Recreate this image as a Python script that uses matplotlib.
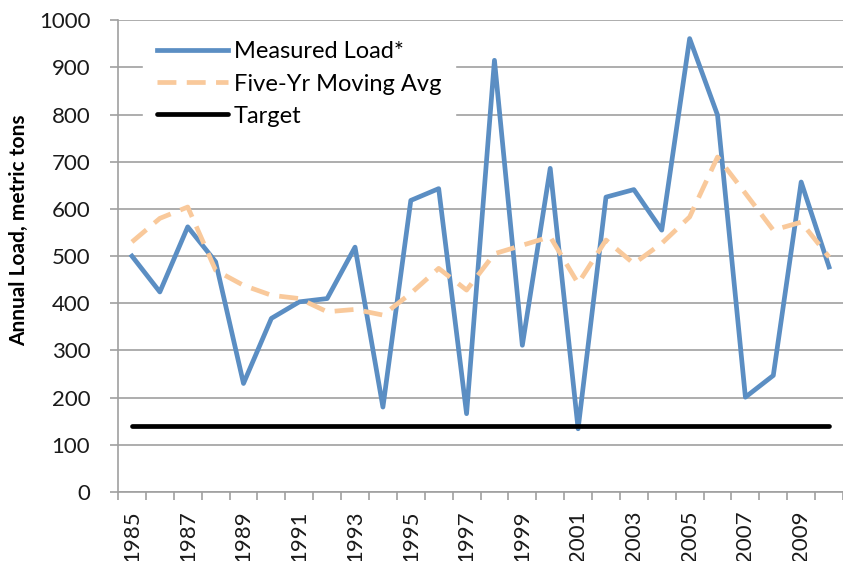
import matplotlib
matplotlib.use('Agg')
import matplotlib.pyplot as plt
import numpy as np

years = list(range(1985, 2011))
measured = [500, 424, 562, 488, 230, 368, 403, 410, 519, 180, 618, 643, 166,
            915, 311, 686, 134, 625, 641, 555, 961, 799, 201, 247, 657, 477]
moving_avg = [530, 580, 604, 470, 438, 417, 410, 382, 387, 375, 421, 474, 428,
              505, 523, 541, 442, 534, 484, 527, 583, 710, 633, 555, 572, 498]
target = [140] * len(years)

plt.rcParams['font.family'] = ['Lato', 'DejaVu Sans']

fig = plt.figure(figsize=(8.43, 5.61), dpi=100)
ax = fig.add_axes([0.14, 0.123, 0.86, 0.841])

x = np.arange(len(years))
ax.plot(x, measured, color='#5b8ec3', lw=3.4, label='Measured Load*', zorder=3)
ax.plot(x, moving_avg, color='#f9c99b', lw=3.4, ls=(0, (4, 2.2)), label='Five-Yr Moving Avg', zorder=3)
ax.plot(x, target, color='black', lw=3.4, label='Target', zorder=3, solid_capstyle='round')

ax.set_xlim(-0.5, len(years) - 0.5)
ax.set_ylim(0, 1000)
ax.set_yticks(range(0, 1001, 100))
ax.yaxis.grid(True, color='#a0a0a0', lw=1.2)
ax.set_axisbelow(True)

ax.set_xticks(x[::2])
ax.set_xticklabels([str(y) for y in years[::2]], rotation=90)
ax.set_xticks(np.arange(len(years) + 1) - 0.5, minor=True)
ax.tick_params(axis='x', which='major', length=0, pad=13, labelsize=16, labelcolor='#1a1a1a')
ax.tick_params(axis='x', which='minor', length=6, color='#a0a0a0', width=1.2)
ax.tick_params(axis='y', length=6, color='#a0a0a0', width=1.2, labelsize=16, pad=14,
               labelcolor='#1a1a1a')

for s in ['top', 'right']:
    ax.spines[s].set_visible(False)
for s in ['left', 'bottom']:
    ax.spines[s].set_color('#a0a0a0')
    ax.spines[s].set_linewidth(1.2)

ax.set_ylabel('Annual Load, metric tons', fontsize=15, fontweight='bold')
ax.yaxis.set_label_coords(-0.122, 0.555)

leg = ax.legend(loc='upper left', bbox_to_anchor=(0.034, 0.985), borderaxespad=0,
                frameon=True, fontsize=17, handlelength=3.0, handletextpad=0.25,
                labelspacing=0.47, borderpad=0.6)
leg.get_frame().set_edgecolor('white')
leg.get_frame().set_facecolor('white')
leg.get_frame().set_alpha(1)
leg.get_frame().set_boxstyle('square', pad=0)

fig.savefig('out.png', dpi=100)
